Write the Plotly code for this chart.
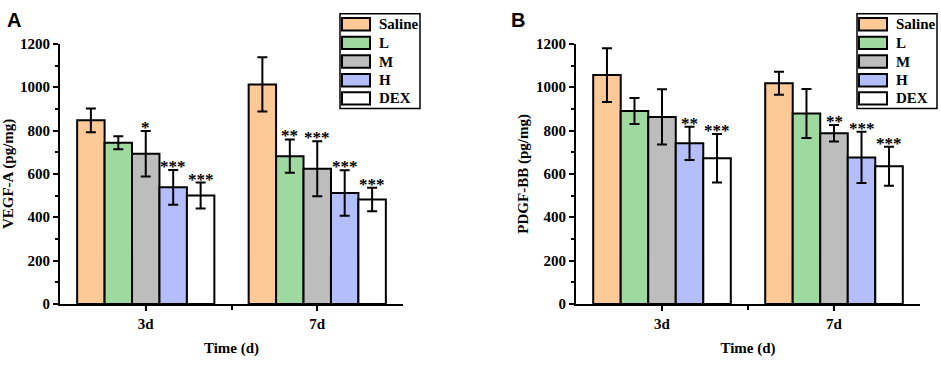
import plotly.graph_objects as go
from plotly.subplots import make_subplots

W, H = 941, 365

groups = ["3d", "7d"]
series = ["Saline", "L", "M", "H", "DEX"]
colors = ["#FDC997", "#9FD99F", "#BDBDBD", "#B4BEFA", "#FFFFFF"]

# Panel A: VEGF-A (pg/mg)
vegf_mean = {
    "Saline": [847, 1013],
    "L": [744, 682],
    "M": [693, 624],
    "H": [538, 512],
    "DEX": [500, 482],
}
vegf_err = {
    "Saline": [55, 125],
    "L": [30, 77],
    "M": [105, 127],
    "H": [80, 105],
    "DEX": [60, 54],
}
vegf_sig = {
    "Saline": ["", ""],
    "L": ["", "**"],
    "M": ["*", "***"],
    "H": ["***", "***"],
    "DEX": ["***", "***"],
}

# Panel B: PDGF-BB (pg/mg)
pdgf_mean = {
    "Saline": [1056, 1018],
    "L": [890, 879],
    "M": [863, 788],
    "H": [741, 676],
    "DEX": [672, 635],
}
pdgf_err = {
    "Saline": [124, 53],
    "L": [60, 113],
    "M": [127, 38],
    "H": [77, 118],
    "DEX": [112, 90],
}
pdgf_sig = {
    "Saline": ["", ""],
    "L": ["", ""],
    "M": ["", "**"],
    "H": ["**", "***"],
    "DEX": ["***", "***"],
}

y_titles = ["VEGF-A (pg/mg)", "PDGF-BB (pg/mg)"]
panel_letters = ["A", "B"]
x_title = "Time (d)"
y_ticks = [0, 200, 400, 600, 800, 1000, 1200]

FONT = "Liberation Serif"
xpos = list(range(len(groups)))

fig = make_subplots(rows=1, cols=2)

bargap = 0.2
n = len(series)
bw = (1 - bargap) / n

panels = [(vegf_mean, vegf_err, vegf_sig), (pdgf_mean, pdgf_err, pdgf_sig)]
for p, (means, errs, sigs) in enumerate(panels):
    col = p + 1
    xa = "x" if p == 0 else "x2"
    ya = "y" if p == 0 else "y2"
    for i, s in enumerate(series):
        fig.add_trace(
            go.Bar(
                x=xpos, y=means[s], name=s,
                marker=dict(color=colors[i], line=dict(color="black", width=2)),
                error_y=dict(type="data", array=errs[s], color="black",
                             thickness=2, width=5),
                showlegend=False,
            ),
            row=1, col=col,
        )
        for g in range(len(groups)):
            if sigs[s][g]:
                xc = xpos[g] - (1 - bargap) / 2 + bw * (i + 0.5)
                fig.add_annotation(
                    x=xc, y=means[s][g] + errs[s][g], xref=xa, yref=ya,
                    text="<b>" + sigs[s][g] + "</b>", showarrow=False,
                    yanchor="bottom", yshift=-8,
                    font=dict(family=FONT, size=17, color="black"),
                )

# domains
domA = [60 / W, 403 / W]
domB = [576 / W, 920 / W]
ydom = [1 - 309.5 / H, 1 - 37.5 / H]

axis_common = dict(
    showline=True, linecolor="black", linewidth=2, ticks="outside",
    tickcolor="black", tickwidth=2, ticklen=5, showgrid=False, zeroline=False,
    tickfont=dict(family=FONT, size=15, color="black"),
)

for p in range(2):
    col = p + 1
    fig.update_xaxes(
        domain=domA if p == 0 else domB,
        range=[-0.5, 1.5], tickvals=xpos,
        ticktext=["<b>" + g + "</b>" for g in groups],
        minor=dict(tickvals=[0.5], ticks="outside", ticklen=4, tickwidth=2,
                   tickcolor="black"),
        title=dict(text="<b>" + x_title + "</b>", standoff=12,
                   font=dict(family=FONT, size=15, color="black")),
        row=1, col=col, **axis_common,
    )
    fig.update_yaxes(
        domain=ydom, range=[0, 1200], tickvals=y_ticks,
        ticktext=["<b>%d</b>" % v for v in y_ticks],
        minor=dict(dtick=100, ticks="outside", ticklen=3, tickwidth=2,
                   tickcolor="black"),
        title=dict(text="<b>" + y_titles[p] + "</b>", standoff=4,
                   font=dict(family=FONT, size=15, color="black")),
        row=1, col=col, **axis_common,
    )

# panel letters
for p, letter in enumerate(panel_letters):
    fig.add_annotation(
        x=(14 if p == 0 else 518) / W, y=1 - 13 / H, xref="paper", yref="paper",
        text="<b>" + letter + "</b>", showarrow=False,
        xanchor="center", yanchor="middle",
        font=dict(family="Liberation Sans", size=20, color="black"),
    )

# manual legends (box with wide swatches)
shapes = []
legend_boxes = [(340, 420), (857, 937)]
row_y = [17, 36.5, 56, 75.5, 94.5]
for (bx0, bx1) in legend_boxes:
    shapes.append(dict(type="rect", xref="paper", yref="paper",
                       x0=bx0 / W, x1=bx1 / W, y0=1 - 105 / H, y1=1 - 6 / H,
                       line=dict(color="black", width=1.5), fillcolor="white",
                       layer="above"))
    for i, s in enumerate(series):
        cy = row_y[i]
        shapes.append(dict(type="rect", xref="paper", yref="paper",
                           x0=(bx0 + 2) / W, x1=(bx0 + 30) / W,
                           y0=1 - (cy + 6.5) / H, y1=1 - (cy - 6.5) / H,
                           line=dict(color="black", width=2),
                           fillcolor=colors[i], layer="above"))
        fig.add_annotation(
            x=(bx0 + 37) / W, y=1 - cy / H, xref="paper", yref="paper",
            text="<b>" + s + "</b>", showarrow=False,
            xanchor="left", yanchor="middle",
            font=dict(family=FONT, size=15, color="black"),
        )

fig.update_layout(
    width=W, height=H,
    margin=dict(l=0, r=0, t=0, b=0),
    paper_bgcolor="white", plot_bgcolor="white",
    barmode="group", bargap=bargap, bargroupgap=0,
    shapes=shapes,
    showlegend=False,
)

fig.write_html(
    "out.html",
    config={"displayModeBar": False, "staticPlot": True},
    post_script="document.body.style.margin='0';document.body.style.overflow='hidden';",
)
